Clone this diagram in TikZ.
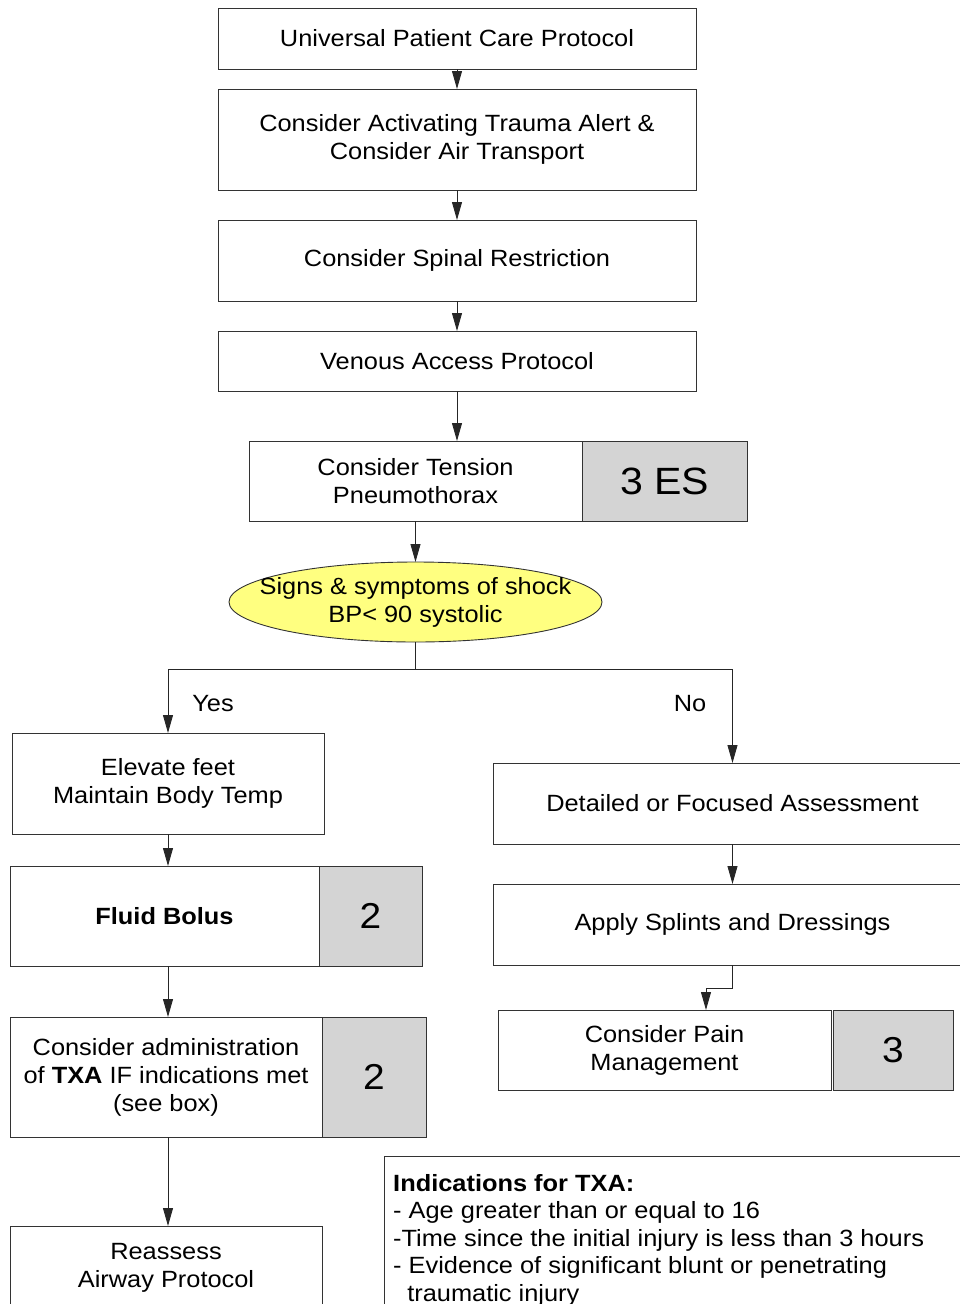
\documentclass[tikz,border=0pt]{standalone}
\usepackage{fontspec}
\setmainfont[FakeStretch=1.08]{Liberation Sans}
\usetikzlibrary{arrows.meta, positioning, shapes.geometric}
\definecolor{edgegray}{HTML}{333333}
\definecolor{refgray}{HTML}{D4D4D4}
\definecolor{shockyellow}{HTML}{FFFF80}

\begin{document}
\begin{tikzpicture}[
  x=1pt, y=-1pt,
  font=\fontsize{23.5}{28}\selectfont,
  box/.style={draw=edgegray, line width=0.9pt, fill=white, align=center, inner sep=0pt, outer sep=0pt},
  refbox/.style={box, fill=refgray, font=\fontsize{36}{40}\selectfont},
  decision/.style={draw=edgegray, line width=0.9pt, ellipse, fill=shockyellow, align=center, inner xsep=-24pt, inner ysep=0pt, outer sep=0pt},
  flow/.style={draw=black!85, line width=0.9pt, -{Triangle[length=18pt, width=10pt]}},
  node distance=30pt
]
\useasboundingbox (0,0) rectangle (960,1304);

% main column
\node[box, minimum width=478pt, minimum height=61pt] (upcp) at (457,38.5) {Universal Patient Care Protocol};
\node[box, minimum width=478pt, minimum height=101pt, below=20pt of upcp] (trauma) {Consider Activating Trauma Alert \&\\Consider Air Transport};
\node[box, minimum width=478pt, minimum height=81pt, below=of trauma] (spinal) {Consider Spinal Restriction};
\node[box, minimum width=478pt, minimum height=60pt, below=of spinal] (venous) {Venous Access Protocol};
\node[box, minimum width=333pt, minimum height=80pt, below=50pt of venous.south, xshift=-41.5pt] (tension) {Consider Tension\\Pneumothorax};
\node[refbox, minimum width=165pt, minimum height=80pt, right=0pt of tension, font=\fontsize{38}{44}\selectfont] (tensionref) {3 ES};
\node[decision, minimum width=373pt, minimum height=80pt, below=41pt of tension] (shock) {Signs \& symptoms of shock\\BP< 90 systolic};
\coordinate[below=27pt of shock] (split);

% yes branch
\node[box, minimum width=312pt, minimum height=101pt] (elevate) at (168,783.5) {Elevate feet\\Maintain Body Temp};
\node[box, minimum width=309pt, minimum height=100pt] (fluid) at (164.5,916) {\textbf{Fluid Bolus}};
\node[refbox, minimum width=103pt, minimum height=100pt, right=0pt of fluid] (fluidref) {2};
\node[box, minimum width=312pt, minimum height=120pt] (txa) at (166,1077) {Consider administration\\of \textbf{TXA} IF indications met\\(see box)};
\node[refbox, minimum width=104pt, minimum height=120pt, right=0pt of txa] (txaref) {2};
\node[box, minimum width=312pt, minimum height=84pt] (reassess) at (166,1268) {Reassess\\Airway Protocol};

% no branch
\node[box, minimum width=479pt, minimum height=81pt] (detailed) at (732.5,803.5) {Detailed or Focused Assessment};
\node[box, minimum width=479pt, minimum height=81pt, below=40pt of detailed] (splints) {Apply Splints and Dressings};
\node[box, minimum width=333pt, minimum height=80pt] (pain) at (664.5,1050) {Consider Pain\\Management};
\node[refbox, minimum width=120pt, minimum height=80pt, right=2pt of pain] (painref) {3};

% indications box
\node[box, minimum width=600pt, minimum height=170pt, anchor=north west] (indic) at (384,1156) {};
\node[anchor=north west, align=left, inner sep=0pt, font=\fontsize{23.5}{27.5}\selectfont] (indictext) at (393,1174)
  {\textbf{Indications for TXA:}\\- Age greater than or equal to 16\\-Time since the initial injury is less than 3 hours\\- Evidence of significant blunt or penetrating\\\ \ traumatic injury};

\node (yes) at (213,704) {Yes};
\node (no) at (690,704) {No};

% connectors
\draw[flow] (upcp) -- (trauma);
\draw[flow] (trauma) -- (spinal);
\draw[flow] (spinal) -- (venous);
\draw[flow] (venous.south) -- (venous.south |- tension.north);
\draw[flow] (tension) -- (shock);
\draw[black!85, line width=0.9pt] (shock.south) -- (split);
\draw[flow] (split) -| (elevate.north);
\draw[flow] (split) -| (detailed.north);
\draw[flow] (elevate.south) -- (elevate.south |- fluid.north);
\draw[flow] (elevate.south |- fluid.south) -- (elevate.south |- txa.north);
\draw[flow] (elevate.south |- txa.south) -- (elevate.south |- reassess.north);
\draw[flow] (detailed) -- (splints);
\draw[flow] (splints.south) -- ++(0,23) -| ([xshift=41.5pt]pain.north);
\end{tikzpicture}
\end{document}
